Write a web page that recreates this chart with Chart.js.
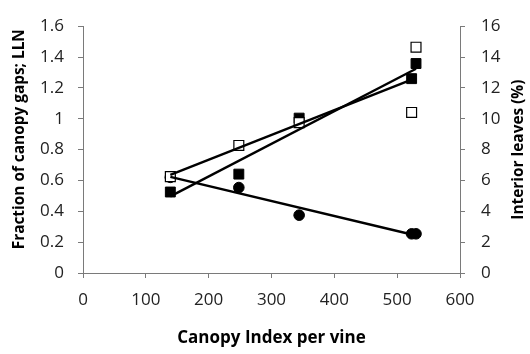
<!DOCTYPE html>
<html>
<head>
<meta charset="utf-8">
<script src="https://cdn.jsdelivr.net/npm/chart.js@4"></script>
<style>
  html, body { margin: 0; padding: 0; background: #fff; }
  #wrap { width: 530px; height: 354px; }
</style>
</head>
<body>
<div id="wrap"><canvas id="c" width="530" height="354"></canvas></div>
<script>
// Canopy index per vine for each vineyard
const canopyIndex = [139, 248, 344, 523, 530];
// Fraction of canopy gaps (left axis)
const canopyGaps = [0.62, 0.554, 0.375, 0.254, 0.254];
// Leaf layer number, LLN (left axis)
const leafLayers = [0.525, 0.641, 1.004, 1.26, 1.358];
// Interior leaves, % (right axis)
const interiorLeaves = [6.25, 8.27, 9.75, 10.41, 14.64];

const xTicks = [0, 100, 200, 300, 400, 500, 600];
const leftTicks = [0, 0.2, 0.4, 0.6, 0.8, 1, 1.2, 1.4, 1.6];
const rightTicks = [0, 2, 4, 6, 8, 10, 12, 14, 16];

const xTitle = 'Canopy Index per vine';
const leftTitle = 'Fraction of canopy gaps; LLN';
const rightTitle = 'Interior leaves (%)';

const pts = (xs, ys) => xs.map((x, i) => ({ x, y: ys[i] }));

// Least-squares linear trend, drawn between the smallest and largest x
function trend(xs, ys) {
  const n = xs.length;
  const mx = xs.reduce((a, b) => a + b, 0) / n;
  const my = ys.reduce((a, b) => a + b, 0) / n;
  let sxy = 0, sxx = 0;
  for (let i = 0; i < n; i++) {
    sxy += (xs[i] - mx) * (ys[i] - my);
    sxx += (xs[i] - mx) ** 2;
  }
  const b = sxy / sxx, a = my - b * mx;
  const lo = Math.min(...xs), hi = Math.max(...xs);
  return [{ x: lo, y: a + b * lo }, { x: hi, y: a + b * hi }];
}

const FONT = "'Open Sans', 'Liberation Sans', sans-serif";
const AXIS = '#7a7a7a';

// Both vertical axis titles read bottom-to-top
const sideTitles = {
  id: 'sideTitles',
  afterDraw(chart) {
    const ctx = chart.ctx;
    const area = chart.chartArea;
    const draw = (text, x, y) => {
      ctx.save();
      ctx.translate(x, y);
      ctx.rotate(-Math.PI / 2);
      ctx.font = `bold 15.4px ${FONT}`;
      ctx.fillStyle = '#000';
      ctx.textAlign = 'center';
      ctx.textBaseline = 'middle';
      ctx.fillText(text, 0, 0);
      ctx.restore();
    };
    draw(leftTitle, 20, area.top + 113);
    draw(rightTitle, 519, (area.top + area.bottom) / 2);
  }
};

const lineStyle = {
  type: 'line', showLine: true, borderColor: '#000', borderWidth: 2.4,
  pointRadius: 0, fill: false, tension: 0
};

new Chart(document.getElementById('c'), {
  type: 'scatter',
  plugins: [sideTitles],
  data: {
    datasets: [
      Object.assign({ label: 'LLN trend', data: trend(canopyIndex, leafLayers), yAxisID: 'y' }, lineStyle),
      Object.assign({ label: 'Interior leaves trend', data: trend(canopyIndex, interiorLeaves), yAxisID: 'y1' }, lineStyle),
      Object.assign({ label: 'Canopy gaps trend', data: trend(canopyIndex, canopyGaps), yAxisID: 'y' }, lineStyle),
      {
        label: 'Interior leaves (%)', data: pts(canopyIndex, interiorLeaves), yAxisID: 'y1',
        pointStyle: 'rect', pointRadius: 7, backgroundColor: '#fff', borderColor: '#000', borderWidth: 1.2
      },
      {
        label: 'LLN', data: pts(canopyIndex, leafLayers), yAxisID: 'y',
        pointStyle: 'rect', pointRadius: 7, backgroundColor: '#000', borderColor: '#000', borderWidth: 1
      },
      {
        label: 'Fraction of canopy gaps', data: pts(canopyIndex, canopyGaps), yAxisID: 'y',
        pointStyle: 'circle', pointRadius: 5.3, backgroundColor: '#000', borderColor: '#000', borderWidth: 1
      }
    ]
  },
  options: {
    responsive: false,
    animation: false,
    events: [],
    layout: { padding: { top: 17, left: 0, right: 0, bottom: 0 } },
    plugins: { legend: { display: false }, tooltip: { enabled: false } },
    scales: {
      x: {
        type: 'linear', min: 0, max: 600,
        afterBuildTicks: s => { s.ticks = xTicks.map(v => ({ value: v })); },
        afterFit: s => { s.height = 81; },
        grid: { display: true, drawOnChartArea: false, drawTicks: true, tickLength: 5, tickColor: AXIS },
        border: { display: true, color: AXIS, width: 1 },
        ticks: { color: '#222', font: { family: FONT, size: 17 }, padding: 12, maxRotation: 0 },
        title: { display: true, text: xTitle, color: '#000',
                 font: { family: FONT, size: 17, weight: 'bold' }, padding: { top: 0, bottom: 6 } }
      },
      y: {
        type: 'linear', position: 'left', min: 0, max: 1.6,
        afterBuildTicks: s => { s.ticks = leftTicks.map(v => ({ value: v })); },
        afterFit: s => { s.width = 83; },
        grid: { display: true, drawOnChartArea: false, drawTicks: true, tickLength: 5, tickColor: AXIS },
        border: { display: true, color: AXIS, width: 1 },
        ticks: { color: '#222', font: { family: FONT, size: 17 }, padding: 14,
                 callback: v => String(Math.round(v * 10) / 10) }
      },
      y1: {
        type: 'linear', position: 'right', min: 0, max: 16,
        afterBuildTicks: s => { s.ticks = rightTicks.map(v => ({ value: v })); },
        afterFit: s => { s.width = 70; },
        grid: { display: true, drawOnChartArea: false, drawTicks: true, tickLength: 5, tickColor: AXIS },
        border: { display: true, color: AXIS, width: 1 },
        ticks: { color: '#222', font: { family: FONT, size: 17 }, padding: 16 }
      }
    }
  }
});
</script>
</body>
</html>
